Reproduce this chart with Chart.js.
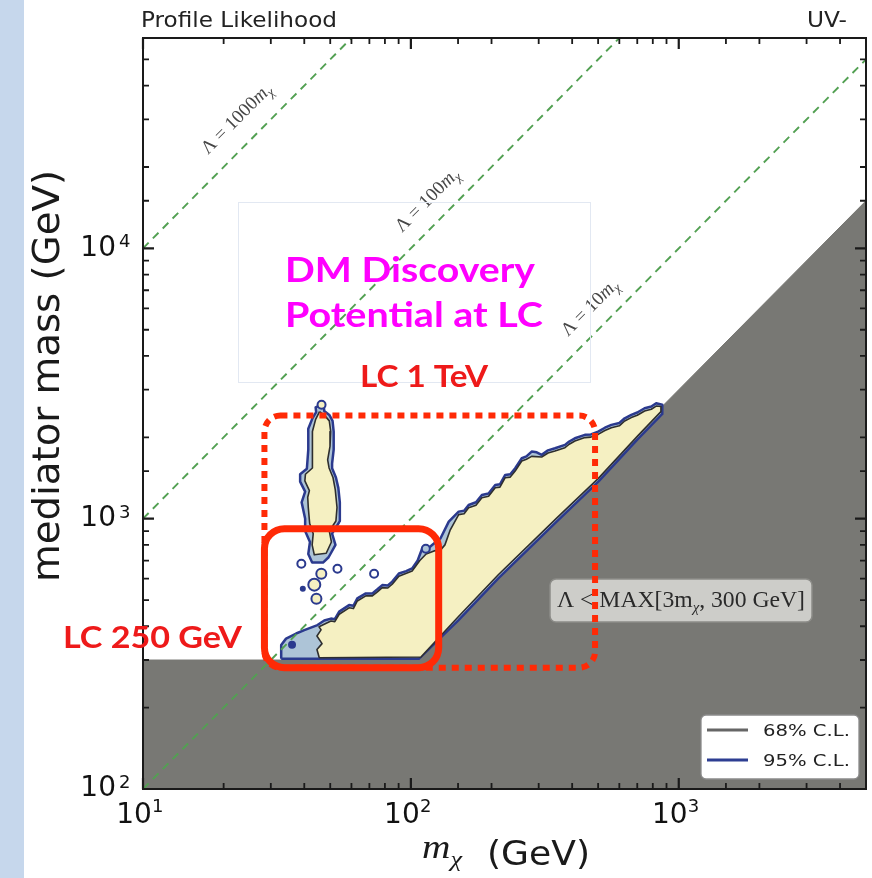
<!DOCTYPE html>
<html><head><meta charset="utf-8">
<script src="https://cdn.jsdelivr.net/npm/chart.js@4.4.1/dist/chart.umd.min.js"></script>
<style>
html,body{margin:0;padding:0;background:#fff;}
#wrap{position:relative;width:872px;height:878px;overflow:hidden;background:#fff;}
#strip{position:absolute;left:0;top:0;width:24px;height:878px;background:#c6d7ec;}
canvas{position:absolute;left:0;top:0;}
</style></head><body>
<div id="wrap"><div id="strip"></div><canvas id="c" width="872" height="878"></canvas></div>
<script>
// ---------------- data ----------------
const xRange = [10, 5000];          // m_chi (GeV)
const yRange = [100, 60000];        // mediator mass (GeV)
const tickBase = '10';
const tickExponents = {1:'1', 2:'2', 3:'3', 4:'4'};

// excluded region: Lambda < MAX[3 m_chi, 300 GeV]
const exclusionX = [10, 100, 5000];
const exclusionY = [300, 300, 15000];

// reference lines Lambda = k m_chi (end points)
const lambda10   = [[10, 100],   [5000, 50000]];
const lambda100  = [[10, 1000],  [600, 60000]];
const lambda1000 = [[10, 10000], [60, 60000]];

// 95% C.L. contour, main wedge
const cl95Main = [
 [32.8,303],[32.8,341],[34.2,360],[37.3,376],[40.0,387],[44.8,404],[47.5,420],[50.3,427],[52,425],[54.0,453],
 [58.8,479],[61,476],[63.1,507],[67.9,529],[71.8,529],[75,548],[78.2,568],[82,566],[85.2,585],[90.2,627],[96,640],[101.1,655],
 [106,700],[110.2,776],[115,770],[120.0,799],[128.9,845],[138.5,975],[150.8,1062],[158,1070],[164.3,1124],[175,1150],[184.1,1224],
 [195,1240],[206.5,1333],[215,1340],[225.0,1452],[235,1460],[245.1,1536],[259.4,1673],[270,1700],[282.4,1771],[295,1760],[307.7,1722],
 [325,1790],[345.1,1822],[376.0,1875],[390,1930],[409.6,1983],[446.3,2042],[470,2050],[500,2100],[530,2170],[560.3,2223],
 [600,2260],[628.3,2352],[665,2421],[700,2470],[745.6,2562],[790,2600],[823.5,2673],[868,2640],
 [868,2440],[700,1960],[501,1371],[350,975],[212,601],[150,420],[107,303]
];
// 95% C.L. contour, vertical strip near m_chi ~ 45 GeV
const cl95Strip = [
 [45.5,2620],[47.3,2600],[47.5,2500],[49.6,2420],[51,2300],[51.5,2100],[51.5,1800],[50.8,1600],[50.8,1536],
 [52.5,1420],[53.6,1300],[54.3,1150],[54.3,980],[50.8,880],[52.3,800],[49.3,720],[47,688],[42.8,688],[41.4,740],
 [42,820],[40.3,900],[40.3,1000],[39.1,1150],[40.3,1259],[38.6,1371],[38.6,1460],[40.9,1530],
 [41.4,1800],[41.4,2150],[42.9,2350],[44.3,2480],[44.1,2580]
];
// 68% C.L. contour, main wedge
const cl68Main = [
 [45.5,306],[44.6,328],[46.6,345],[44.6,368],[46.2,388],[45.4,398],[50.3,418],[52,416],[54.0,443],[58.8,468],[61,465],
 [63.1,496],[67.9,518],[71.8,518],[75,536],[78.2,556],[82,554],[85.2,572],[90.2,612],[101.1,640],[108,700],[114,740],
 [122,760],[128.9,765],[134,800],[140,905],[150.8,1035],[158,1043],[164.3,1098],[175,1122],[184.1,1196],[195,1210],[206.5,1302],
 [215,1308],[225,1418],[235,1425],[245.1,1500],[259.4,1634],[270,1660],[282.4,1700],[307.7,1690],[325,1750],[345.1,1780],[376,1830],
 [390,1885],[409.6,1937],[446.3,1995],[470,2003],[500,2050],[530,2118],[560.3,2170],[600,2205],[628.3,2298],[665,2365],
 [700,2412],[745.6,2503],[790,2540],[823.5,2610],[858,2600],
 [858,2490],[700,2015],[501,1410],[350,1005],[212,620],[150,433],[109,308]
];
// 68% C.L. contour, vertical strip
const cl68Strip = [
 [45.6,2490],[47.8,2400],[49.6,2300],[50.2,2100],[49.9,1850],[48.9,1650],[49.5,1540],[51.2,1420],
 [52.2,1280],[53,1100],[52.5,980],[49.6,900],[50.5,820],[48.3,745],[43.6,735],[42.8,800],[43.2,880],
 [41.9,960],[41.4,1100],[41.2,1200],[41.8,1270],[40.2,1380],[40.4,1460],[42.9,1540],[43,1750],
 [42.8,2100],[44.1,2330]
];
// small isolated contour islands
const islandX = [39.0, 46.3, 53.2, 72.9, 43.6, 44.4, 113.7, 36.0, 39.5, 46.4];
const islandY = [681, 626, 653, 626, 570, 506, 774, 342, 550, 2640];

// annotation regions (data coordinates)
const lc250Box  = {xMin: 28.4, xMax: 127, yMin: 281, yMax: 918};
const lc1TeVBox = {xMin: 28.4, xMax: 487, yMin: 281, yMax: 2407};

// ---------------- helpers ----------------
const pts = a => a.map(p => ({x: p[0], y: p[1]}));
const closed = a => pts(a.concat([a[0]]));
const pairs = (xs, ys) => xs.map((x, i) => ({x, y: ys[i]}));
const isMajor = v => { const e = Math.log10(v); return Math.abs(e - Math.round(e)) < 1e-6; };
const expOf = v => tickExponents[Math.round(Math.log10(v))];

const BLUE = '#2b3a8e', LBLUE = '#adc4d7', YEL = '#f5f0c2', GRAY = '#787874';

function polyDS(data, bg, border, bw, order) {
  return {data, fill: 'shape', backgroundColor: bg, borderColor: border, borderWidth: bw,
          pointRadius: 0, pointHoverRadius: 0, tension: 0, order, borderJoinStyle: 'round'};
}
function dashDS(data) {
  return {data: pts(data), borderColor: '#52a052', borderWidth: 1.9, borderDash: [8, 6],
          pointRadius: 0, fill: false, tension: 0, order: 1};
}

function rrect(ctx, x, y, w, h, r) {
  ctx.beginPath();
  ctx.moveTo(x + r, y); ctx.lineTo(x + w - r, y); ctx.arcTo(x + w, y, x + w, y + r, r);
  ctx.lineTo(x + w, y + h - r); ctx.arcTo(x + w, y + h, x + w - r, y + h, r);
  ctx.lineTo(x + r, y + h); ctx.arcTo(x, y + h, x, y + h - r, r);
  ctx.lineTo(x, y + r); ctx.arcTo(x, y, x + r, y, r); ctx.closePath();
}
function fitText(ctx, txt, x, y, w, font, color) {
  ctx.save(); ctx.font = font; ctx.fillStyle = color; ctx.textAlign = 'left'; ctx.textBaseline = 'alphabetic';
  const m = ctx.measureText(txt).width;
  ctx.translate(x, y); ctx.scale(w / m, 1); ctx.fillText(txt, 0, 0); ctx.restore();
}
function runs(ctx, list, x, y, w, color) {
  ctx.save(); ctx.fillStyle = color; ctx.textBaseline = 'alphabetic'; ctx.textAlign = 'left';
  let tot = 0; list.forEach(r => { ctx.font = r[1]; tot += ctx.measureText(r[0]).width; });
  ctx.translate(x, y); if (w) ctx.scale(w / tot, 1);
  let cx = 0; list.forEach(r => { ctx.font = r[1]; ctx.fillText(r[0], cx, r[2] || 0); cx += ctx.measureText(r[0]).width; });
  ctx.restore();
}
function lambdaLabel(ctx, k, x, y) {
  ctx.save(); ctx.translate(x, y); ctx.rotate(-Math.PI / 4);
  runs(ctx, [['\u039B = ' + k, '19px "Liberation Serif"', 0], ['m', 'italic 19px "Liberation Serif"', 0],
             ['\u03C7', 'italic 13px "Liberation Serif"', 4]], 0, 0, 0, '#474747');
  ctx.restore();
}

const overlay = {
  id: 'overlay',
  afterDraw(chart) {
    const ctx = chart.ctx, a = chart.chartArea, xs = chart.scales.x, ys = chart.scales.y;
    // inward ticks & frame
    ctx.save(); ctx.strokeStyle = '#1a1a1a';
    xs.ticks.forEach(t => {
      const p = xs.getPixelForValue(t.value), M = isMajor(t.value), L = M ? 11 : 6;
      ctx.lineWidth = M ? 2.2 : 1.8; ctx.beginPath();
      ctx.moveTo(p, a.bottom); ctx.lineTo(p, a.bottom - L);
      ctx.moveTo(p, a.top); ctx.lineTo(p, a.top + L); ctx.stroke();
    });
    ys.ticks.forEach(t => {
      const p = ys.getPixelForValue(t.value), M = isMajor(t.value), L = M ? 11 : 6;
      ctx.lineWidth = M ? 2.2 : 1.8; ctx.beginPath();
      ctx.moveTo(a.left, p); ctx.lineTo(a.left + L, p);
      ctx.moveTo(a.right, p); ctx.lineTo(a.right - L, p); ctx.stroke();
    });
    ctx.lineWidth = 2; ctx.strokeRect(a.left, a.top, a.right - a.left, a.bottom - a.top);
    ctx.restore();

    // tick label exponents (superscripts)
    ctx.save(); ctx.fillStyle = '#111'; ctx.font = '18px "DejaVu Sans"'; ctx.textAlign = 'left'; ctx.textBaseline = 'alphabetic';
    xs.ticks.forEach(t => { if (isMajor(t.value) && expOf(t.value)) ctx.fillText(expOf(t.value), xs.getPixelForValue(t.value) + 9, 812); });
    ys.ticks.forEach(t => { if (isMajor(t.value) && expOf(t.value)) ctx.fillText(expOf(t.value), 119, ys.getPixelForValue(t.value) - 1); });
    ctx.restore();

    // lambda line labels
    lambdaLabel(ctx, 1000, 208, 155);
    lambdaLabel(ctx, 100, 402, 233);
    lambdaLabel(ctx, 10, 568, 337);

    // excluded-region label box
    ctx.save(); rrect(ctx, 550, 579, 262, 43, 6);
    ctx.fillStyle = 'rgba(210,210,205,0.95)'; ctx.fill();
    ctx.strokeStyle = '#8c8c88'; ctx.lineWidth = 1.5; ctx.stroke(); ctx.restore();
    runs(ctx, [['\u039B < MAX[3m', '24px "Liberation Serif"', 0], ['\u03C7', 'italic 15px "Liberation Serif"', 5],
               [', 300 GeV]', '24px "Liberation Serif"', 0]], 557, 607, 248, '#2a2a2a');

    // legend
    ctx.save(); rrect(ctx, 701, 715, 158, 64, 5); ctx.fillStyle = '#fff'; ctx.fill();
    ctx.strokeStyle = '#8a8a8a'; ctx.lineWidth = 1.3; ctx.stroke();
    ctx.lineWidth = 3; ctx.strokeStyle = '#666'; ctx.beginPath(); ctx.moveTo(707, 730); ctx.lineTo(748, 730); ctx.stroke();
    ctx.strokeStyle = '#2d3e92'; ctx.beginPath(); ctx.moveTo(707, 760); ctx.lineTo(748, 760); ctx.stroke();
    ctx.restore();
    fitText(ctx, '68% C.L.', 763, 736, 87, '16px "DejaVu Sans"', '#222');
    fitText(ctx, '95% C.L.', 763, 766, 87, '16px "DejaVu Sans"', '#222');

    // red collider boxes
    const red = '#ff2a06';
    function boxPix(b) {
      const x0 = xs.getPixelForValue(b.xMin), x1 = xs.getPixelForValue(b.xMax);
      const y0 = ys.getPixelForValue(b.yMax), y1 = ys.getPixelForValue(b.yMin);
      return [x0, y0, x1 - x0, y1 - y0];
    }
    ctx.save(); ctx.strokeStyle = red;
    let b = boxPix(lc1TeVBox); ctx.lineWidth = 6; ctx.setLineDash([7, 6]);
    rrect(ctx, b[0], b[1], b[2], b[3], 16); ctx.stroke();
    ctx.setLineDash([]); b = boxPix(lc250Box); ctx.lineWidth = 7;
    rrect(ctx, b[0], b[1], b[2], b[3], 20); ctx.stroke();
    ctx.restore();

    // discovery potential box and texts
    ctx.save(); ctx.strokeStyle = '#e2e8f2'; ctx.lineWidth = 1; ctx.strokeRect(238.5, 202.5, 352, 180); ctx.restore();
    fitText(ctx, 'DM Discovery', 285, 282, 250, 'bold 35px Lato', '#ff00ff');
    fitText(ctx, 'Potential at LC', 285, 327, 258, 'bold 35px Lato', '#ff00ff');
    fitText(ctx, 'LC 1 TeV', 360, 387, 128, 'bold 30px Lato', '#ee1a1a');
    fitText(ctx, 'LC 250 GeV', 63, 648, 179, 'bold 30px Lato', '#ee1a1a');

    // header texts
    fitText(ctx, 'Profile Likelihood', 141, 27, 196, '22px "DejaVu Sans"', '#222');
    fitText(ctx, 'UV-', 807, 27, 40, '22px "DejaVu Sans"', '#222');

    // axis titles
    ctx.save(); ctx.translate(59, 376); ctx.rotate(-Math.PI / 2);
    fitText(ctx, 'mediator mass (GeV)', -206, 0, 412, '38px "DejaVu Sans"', '#1a1a1a');
    ctx.restore();
    runs(ctx, [['m', 'italic 33px "Liberation Serif"', -6], ['\u03C7', 'italic 22px "Liberation Serif"', 2]], 422, 864, 40, '#1a1a1a');
    fitText(ctx, '(GeV)', 487, 865, 103, '33px "DejaVu Sans"', '#1a1a1a');
  }
};

const tickFmt = v => (isMajor(v) && expOf(v)) ? tickBase : '';
const noPad = s => { s.paddingTop = 0; s.paddingBottom = 0; s.paddingLeft = 0; s.paddingRight = 0; };

new Chart(document.getElementById('c'), {
  type: 'line',
  data: {
    datasets: [
      {data: pairs(exclusionX, exclusionY), fill: 'start', backgroundColor: GRAY, borderColor: GRAY,
       borderWidth: 1, pointRadius: 0, tension: 0, order: 10},
      polyDS(closed(cl95Main), LBLUE, BLUE, 2.5, 8),
      polyDS(closed(cl95Strip), LBLUE, BLUE, 2.5, 8),
      polyDS(closed(cl68Main), YEL, '#2e2e2e', 1.6, 7),
      polyDS(closed(cl68Strip), YEL, '#2e2e2e', 1.6, 7),
      {data: pairs(islandX, islandY), showLine: false, order: 6,
       pointRadius: [4, 5, 4, 4, 6, 5, 4, 3, 2, 4], pointHoverRadius: 0,
       pointBackgroundColor: ['#fff', YEL, '#fff', '#fff', YEL, YEL, LBLUE, BLUE, BLUE, YEL],
       pointBorderColor: BLUE, pointBorderWidth: 2},
      dashDS(lambda10), dashDS(lambda100), dashDS(lambda1000)
    ]
  },
  options: {
    responsive: false, animation: false, devicePixelRatio: 1,
    layout: {padding: {left: 0, right: 5, top: 38, bottom: 0}},
    plugins: {legend: {display: false}, tooltip: {enabled: false}, title: {display: false}},
    events: [],
    scales: {
      x: {type: 'logarithmic', min: xRange[0], max: xRange[1], position: 'bottom',
          grid: {display: false, drawTicks: false}, border: {display: false},
          ticks: {autoSkip: false, maxRotation: 0, minRotation: 0, padding: 10, labelOffset: -9, color: '#111',
                  font: {family: 'DejaVu Sans', size: 28}, callback: tickFmt},
          afterFit: s => { s.height = 89; noPad(s); }},
      y: {type: 'logarithmic', min: yRange[0], max: yRange[1], position: 'left',
          grid: {display: false, drawTicks: false}, border: {display: false},
          ticks: {autoSkip: false, padding: 27, color: '#111',
                  font: {family: 'DejaVu Sans', size: 28}, callback: tickFmt},
          afterFit: s => { s.width = 143; noPad(s); }}
    }
  },
  plugins: [overlay]
});
</script>
</body></html>
